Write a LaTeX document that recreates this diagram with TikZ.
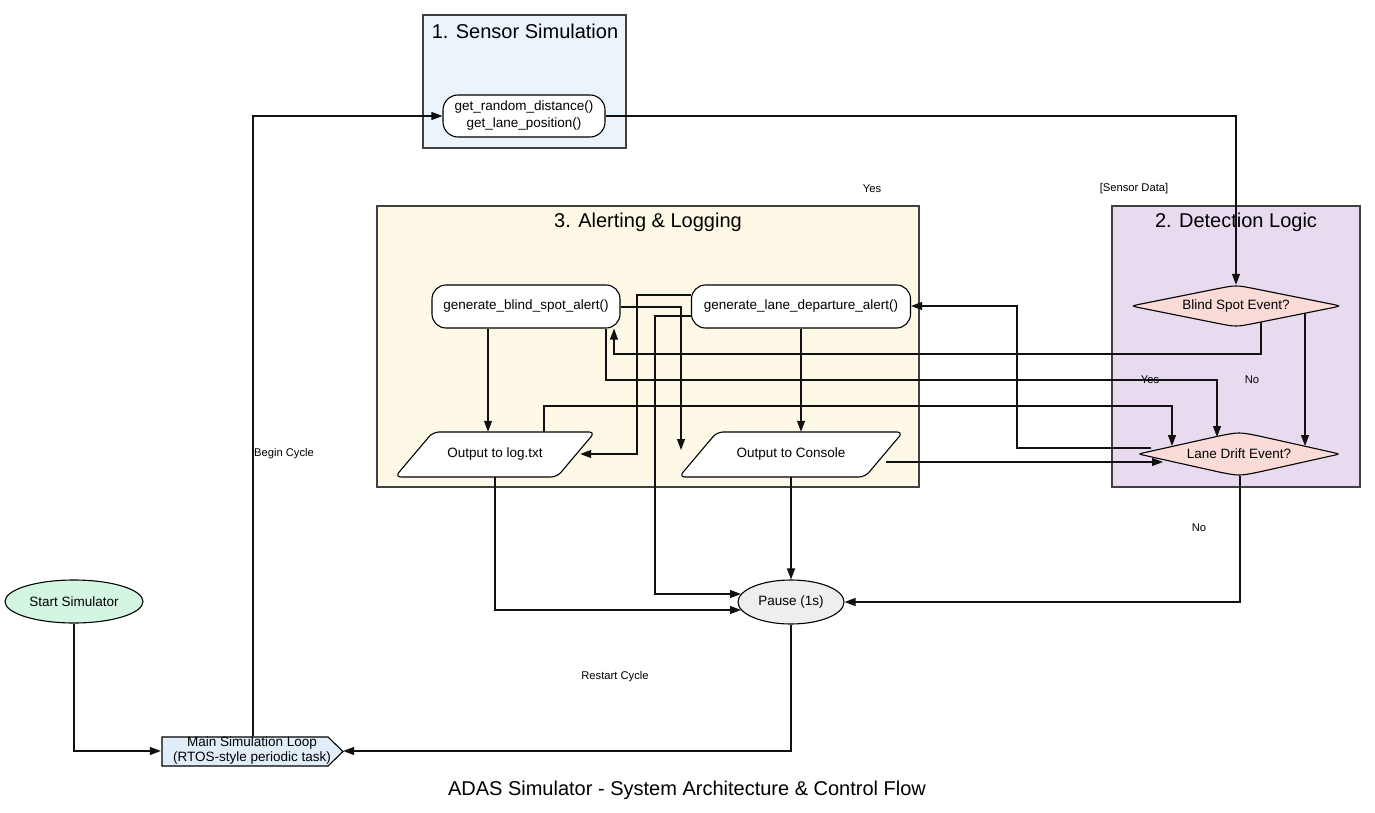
\documentclass[tikz,border=0pt]{standalone}
\usepackage{fontspec}
\setmainfont{Liberation Sans}
\usetikzlibrary{shapes.geometric,arrows.meta,calc}
\definecolor{sensfill}{HTML}{EBF4FB}
\definecolor{alertfill}{HTML}{FEF8E7}
\definecolor{detfill}{HTML}{E8DAEF}
\definecolor{diafill}{HTML}{FADBD8}
\definecolor{startfill}{HTML}{D5F5E3}
\definecolor{mainfill}{HTML}{E1EEFA}
\definecolor{pausefill}{HTML}{EEEEEE}
\definecolor{clborder}{HTML}{404040}
\definecolor{edgecol}{HTML}{111111}
\newcommand{\rdiamond}[4]{% centre x, centre y, half width, half height
  \draw[diashape] ({#1-#3+8},{#2-1.7}) -- ({#1-20},{#2-#4+4}) .. controls (#1,{#2-#4}) .. ({#1+20},{#2-#4+4})
    -- ({#1+#3-8},{#2-1.7}) .. controls ({#1+#3},#2) .. ({#1+#3-8},{#2+1.7})
    -- ({#1+20},{#2+#4-4}) .. controls (#1,{#2+#4}) .. ({#1-20},{#2+#4-4})
    -- ({#1-#3+8},{#2+1.7}) .. controls ({#1-#3},#2) .. ({#1-#3+8},{#2-1.7}) -- cycle;}
\begin{document}
\begin{tikzpicture}[x=1pt,y=-1pt,
  every node/.style={font=\fontsize{13.5}{17}\selectfont, inner sep=0pt},
  cluster/.style={draw=clborder, line width=1.3pt, rectangle},
  cltitle/.style={font=\fontsize{20}{24}\selectfont},
  rbox/.style={draw=black, line width=1.1pt, rectangle, rounded corners=14pt, fill=white, align=center},
  pshape/.style={draw=black, line width=1.1pt, rounded corners=6pt, fill=white},
  diashape/.style={draw=black, line width=1.1pt, fill=diafill},
  ell/.style={draw=black, line width=1.1pt, ellipse},
  elab/.style={font=\fontsize{11.2}{13}\selectfont},
  arr/.style={draw=edgecol, line width=1.05pt, -{Triangle[length=11pt,width=8pt]}}
]
\useasboundingbox (0,0) rectangle (1375,813);

% clusters
\node[cluster, fill=sensfill, minimum width=203, minimum height=133] (c1) at (524.5,81.5) {};
\node[cltitle] (c1t) at (525,31) {1. Sensor Simulation};
\node[cluster, fill=alertfill, minimum width=542, minimum height=281] (c3) at (648,346.5) {};
\node[cltitle] (c3t) at (648,222) {3. Alerting \& Logging};
\node[cluster, fill=detfill, minimum width=248, minimum height=281] (c2) at (1236,346.5) {};
\node[cltitle] (c2t) at (1236,222) {2. Detection Logic};

% nodes
\node[rbox, minimum width=162, minimum height=42, rounded corners=15pt] (sensor) at (524,116) {get\_random\_distance()\\get\_lane\_position()};
\node[rbox, minimum width=188, minimum height=43] (balert) at (526,306.5) {generate\_blind\_spot\_alert()};
\node[rbox, minimum width=219, minimum height=43] (lalert) at (801,306.5) {generate\_lane\_departure\_alert()};
\draw[pshape] (433,432) -- (595,432) -- (557,477) -- (395,477) -- cycle;
\node[minimum width=162, minimum height=45] (log) at (495,454.5) {Output to log.txt};
\draw[pshape] (717,432) -- (903,432) -- (865,477) -- (679,477) -- cycle;
\node[minimum width=186, minimum height=45] (console) at (791,454.5) {Output to Console};
\rdiamond{1236}{306}{104.5}{21}
\node[minimum width=209, minimum height=42] (bsd) at (1236,306) {Blind Spot Event?};
\rdiamond{1239}{454}{101}{22}
\node[minimum width=202, minimum height=44] (ldd) at (1239,454) {Lane Drift Event?};
\node[ell, fill=startfill, minimum width=138, minimum height=43] (start) at (74,601.5) {Start Simulator};
\node[ell, fill=pausefill, minimum width=106, minimum height=44] (pause) at (791,602) {Pause (1s)};
\draw[draw=black, line width=1.1pt, fill=mainfill] (162,737) -- (328,737) -- (343,751.5) -- (328,766) -- (162,766) -- cycle;
\node[minimum width=181, minimum height=28, align=center, font=\fontsize{13.5}{15}\selectfont] (main) at (252,751) {Main Simulation Loop\\(RTOS-style periodic task)};

% title
\node[font=\fontsize{20}{24}\selectfont] (title) at (687,790) {ADAS Simulator - System Architecture \& Control Flow};

% edges
\draw[arr] (start.south) |- ($(main.west)+(-0.5,0)$);
\draw[arr] ($(main.north)+(1,-0.5)$) |- (sensor.west);
\draw[arr] (sensor.east) -| (bsd.north);
\draw[arr] ($(bsd.center)+(25,16)$) |- (614,354) -- ($(balert.south)+(88,0)$);
\draw[arr] ($(bsd.center)+(69,7)$) -- ($(ldd.center)+(66,-8)$);
\draw[arr] ($(balert.south)+(-38,0)$) -- ($(log.north)+(-7,0)$);
\draw[arr] ($(balert.east)+(0,0.5)$) -| ($(console.center)+(-110,-4.5)$);
\draw[arr] ($(lalert.west)+(0,-11.5)$) -- (637,295) |- ($(log.east)+(4,-0.5)$);
\draw[arr] ($(lalert.west)+(0,9.5)$) -- (655,316) |- ($(pause.center)+(-50,-8)$);
\draw[arr] (lalert.south) -- (lalert.south |- console.north);
\draw[arr] (log.south) |- ($(pause.center)+(-50,8)$);
\draw[arr] ($(log.north)+(49,0)$) |- (1172,406) -- ($(ldd.center)+(-67,-8)$);
\draw[arr] (console.south) -- (pause.north);
\draw[arr] ($(console.center)+(95,7.5)$) -- ($(ldd.center)+(-76,8)$);
\draw[arr] ($(ldd.center)+(-88,-6)$) -- (1017,448) |- ($(lalert.east)+(0,-0.5)$);
\draw[arr] ($(ldd.south)+(1,0)$) |- (pause.east);
\draw[arr] (pause.south) |- ($(main.east)+(0.5,0)$);
\draw[arr] ($(balert.south)+(80,0)$) |- (1217,380) -- ($(ldd.center)+(-22,-17)$);

% edge labels
\node[elab] (l1) at (872,189) {Yes};
\node[elab] (l2) at (1134,189) {[Sensor Data]};
\node[elab] (l3) at (284,454) {Begin Cycle};
\node[elab] (l4) at (1150,380) {Yes};
\node[elab] (l5) at (1252,380) {No};
\node[elab] (l6) at (1199,528) {No};
\node[elab] (l7) at (615,677) {Restart Cycle};
\end{tikzpicture}
\end{document}
